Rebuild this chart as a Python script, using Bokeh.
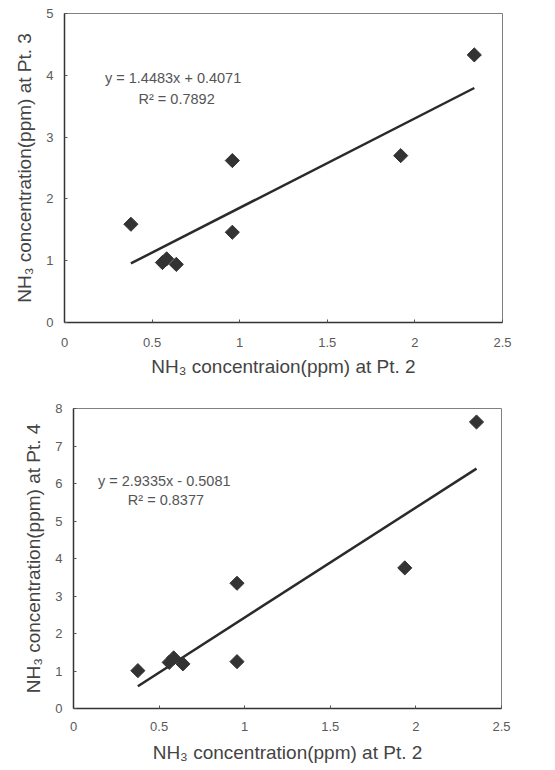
import numpy as np
from bokeh.plotting import figure
from bokeh.layouts import column, row
from bokeh.models import Range1d, FixedTicker
from bokeh.core.properties import value
from bokeh.embed import file_html
from bokeh.resources import INLINE

# ---- data ----
x_pt2_a = [0.379, 0.559, 0.583, 0.638, 0.958, 0.958, 1.919, 2.339]
y_pt3 = [1.59, 0.97, 1.03, 0.94, 2.62, 1.46, 2.70, 4.33]
slope_a, icpt_a = 1.4483, 0.4071
eq_a = "y = 1.4483x + 0.4071"
r2_a = "R\u00b2 = 0.7892"

x_pt2_b = [0.376, 0.559, 0.585, 0.639, 0.955, 0.955, 1.935, 2.354]
y_pt4 = [1.01, 1.23, 1.35, 1.19, 3.34, 1.25, 3.75, 7.64]
slope_b, icpt_b = 2.9335, -0.5081
eq_b = "y = 2.9335x - 0.5081"
r2_b = "R\u00b2 = 0.8377"

x_ticks = [0, 0.5, 1, 1.5, 2, 2.5]
y_ticks_a = [0, 1, 2, 3, 4, 5]
y_ticks_b = [0, 1, 2, 3, 4, 5, 6, 7, 8]

FONT = "Liberation Sans"


def make_fig(xs, ys, slope, icpt, eq, r2, ymax, yticks, xlabel, ylabel,
             height, bl, br, bt, bb, eq_pos, r2_pos, xstand, xlstand):
    p = figure(width=550, height=height, output_backend="svg", toolbar_location=None,
               x_range=Range1d(0, 2.5), y_range=Range1d(0, ymax),
               min_border_left=bl, min_border_right=br, min_border_top=bt,
               min_border_bottom=bb)
    p.xgrid.visible = False
    p.ygrid.visible = False
    p.outline_line_color = "#808080"
    p.outline_line_width = 1
    p.background_fill_color = "white"
    p.border_fill_color = "white"

    for ax in (p.xaxis[0], p.yaxis[0]):
        ax.axis_line_color = "#333333"
        ax.axis_line_width = 1.5
        ax.major_tick_in = 3
        ax.major_tick_out = 0
        ax.major_tick_line_color = "#555555"
        ax.minor_tick_line_color = None
        ax.major_label_text_font = FONT
        ax.major_label_text_font_size = "13px"
        ax.major_label_text_color = "#5a5a5a"
        ax.axis_label_text_font = FONT
        ax.axis_label_text_font_size = "19px"
        ax.axis_label_text_font_style = "normal"
        ax.axis_label_text_color = "#444444"

    p.xaxis[0].ticker = FixedTicker(ticks=x_ticks)
    p.yaxis[0].ticker = FixedTicker(ticks=yticks)
    p.xaxis[0].major_label_standoff = xstand
    p.yaxis[0].major_label_standoff = 11
    p.xaxis[0].axis_label = xlabel
    p.yaxis[0].axis_label = ylabel
    p.xaxis[0].axis_label_standoff = xlstand
    p.yaxis[0].axis_label_standoff = 8

    x0, x1 = min(xs), max(xs)
    p.line([x0, x1], [slope * x0 + icpt, slope * x1 + icpt],
           line_color="#2a2a2a", line_width=2.5)
    p.scatter(xs, ys, marker="square", angle=np.pi / 4, size=10,
              fill_color="#333333", line_color="#333333")

    p.text([eq_pos[0]], [eq_pos[1]], text=[eq], text_font=value(FONT),
           text_font_size="14.5px", text_color="#555555",
           text_align="center", text_baseline="middle")
    p.text([r2_pos[0]], [r2_pos[1]], text=[r2], text_font=value(FONT),
           text_font_size="14.5px", text_color="#555555",
           text_align="center", text_baseline="middle")
    return p


p1 = make_fig(x_pt2_a, y_pt3, slope_a, icpt_a, eq_a, r2_a, 5, y_ticks_a,
              "NH\u2083 concentraion(ppm) at Pt. 2",
              "NH\u2083 concentration(ppm) at Pt. 3",
              380, 64, 48, 13, 58, (0.62, 3.95), (0.64, 3.61), 15, 6)
p2 = make_fig(x_pt2_b, y_pt4, slope_b, icpt_b, eq_b, r2_b, 8, y_ticks_b,
              "NH\u2083 concentration(ppm) at Pt. 2",
              "NH\u2083 concentration(ppm) at Pt. 4",
              388, 73, 49, 28, 60, (0.53, 6.08), (0.54, 5.55), 13, 8)

layout = column(row(p1), row(p2), spacing=0)
open("out.html", "w").write(file_html(layout, INLINE))
